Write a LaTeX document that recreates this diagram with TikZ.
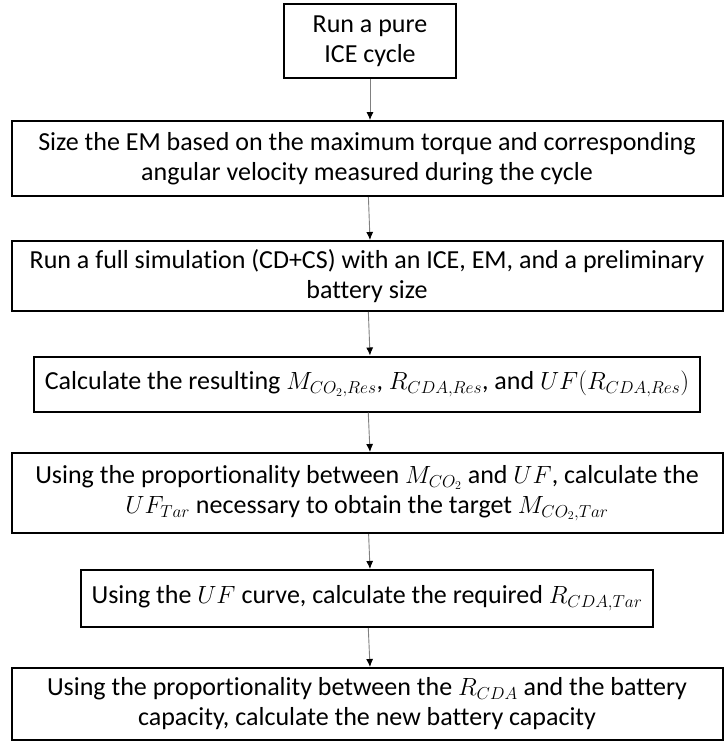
\documentclass[tikz,border=0pt]{standalone}
\usepackage{fontspec}
\setmainfont{Carlito}[Ligatures=NoCommon]
\usetikzlibrary{arrows.meta}

\begin{document}
\begin{tikzpicture}[x=1pt, y=-1pt, main box/.style={draw, line width=2pt, align=center, inner sep=0pt, font=\fontsize{26}{30}\selectfont}, flow/.style={draw=gray, line width=0.9pt, -{Latex[black, length=8pt, width=7pt]}}]

\useasboundingbox (0,0) rectangle (724,742);

\node[main box, minimum width=172pt, minimum height=74pt] (s1) at (370,41) {Run a pure\\ICE cycle};
\node[main box, minimum width=711pt, minimum height=75pt] (s2) at (367,158.5) {Size the EM based on the maximum torque and corresponding\\angular velocity measured during the cycle};
\node[main box, minimum width=711pt, minimum height=70pt] (s3) at (367,276) {Run a full simulation (CD+CS) with an ICE, EM, and a preliminary\\battery size};
\node[main box, minimum height=55pt, inner xsep=11pt] (s4) at (367,384) {Calculate the resulting $M_{CO_2,Res}$, $R_{CDA,Res}$, and $UF(R_{CDA,Res})$};
\node[main box, minimum width=711pt, minimum height=80pt] (s5) at (367,493) {Using the proportionality between $M_{CO_2}$ and $UF$, calculate the\\$UF_{Tar}$ necessary to obtain the target $M_{CO_2,Tar}$};
\node[main box, minimum height=57pt, inner xsep=11pt] (s6) at (367,598.5) {Using the $UF$ curve, calculate the required $R_{CDA,Tar}$};
\node[main box, minimum width=711pt, minimum height=72pt] (s7) at (367,704) {Using the proportionality between the $R_{CDA}$ and the battery\\capacity, calculate the new battery capacity};

\path (s1) [flow] edge (s1 |- s2.north);
\path (s2) [flow] edge (s1 |- s3.north);
\path (s3) [flow] edge (s1 |- s4.north);
\path (s4) [flow] edge (s1 |- s5.north);
\path (s5) [flow] edge (s1 |- s6.north);
\path (s6) [flow] edge (s1 |- s7.north);
\end{tikzpicture}
\end{document}
